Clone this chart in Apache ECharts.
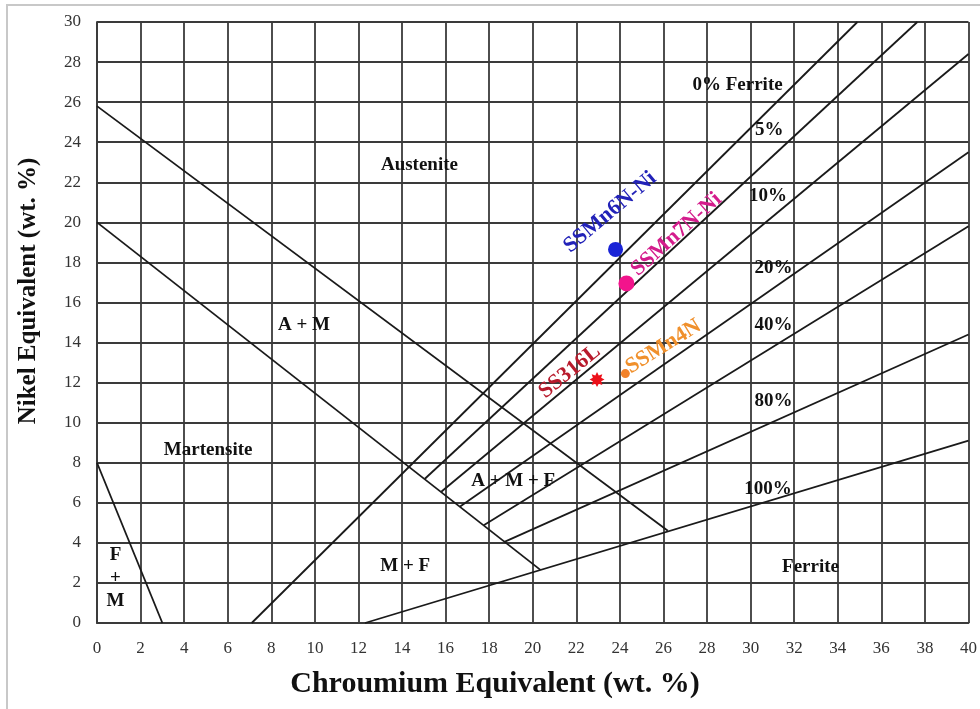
<!DOCTYPE html>
<html>
<head>
<meta charset="utf-8">
<script src="https://cdn.jsdelivr.net/npm/echarts@6/dist/echarts.min.js"></script>
<style>
html,body{margin:0;padding:0;background:#fff;}
#chart{width:980px;height:709px;}
</style>
</head>
<body>
<div id="chart"></div>
<script>
// ---- Schaeffler diagram boundaries (Cr eq, Ni eq) ----
const austeniteBoundary  = [[0, 25.8], [26.2, 4.6]];
const martensiteBoundary = [[0, 20.0], [20.35, 2.65]];
const fmBoundary         = [[0, 8.0], [3.0, 0]];
const ferrite0   = [[7.1, 0], [34.9, 30]];
const ferrite5   = [[15.05, 7.2], [37.65, 30]];
const ferrite10  = [[15.8, 6.55], [40, 28.4]];
const ferrite20  = [[16.65, 5.8], [40, 23.5]];
const ferrite40  = [[17.75, 4.88], [40, 19.8]];
const ferrite80  = [[18.7, 4.05], [40, 14.4]];
const ferrite100 = [[12.3, 0], [40, 9.1]];

// ---- samples ----
const sampleNames = ['SSMn6N-Ni', 'SSMn7N-Ni', 'SS316L', 'SSMn4N'];
const sampleCr    = [23.8, 24.3, 22.95, 24.25];
const sampleNi    = [18.65, 16.95, 12.15, 12.45];
const sampleLabelCr = [23.55, 26.6, 21.7, 26.0];
const sampleLabelNi = [20.5, 19.4, 12.55, 13.8];

// ---- region / ferrite labels ----
const regionNames = ['Austenite', 'A + M', 'Martensite', 'A + M + F', 'M + F', 'Ferrite', 'F\n+\nM',
  '0% Ferrite', '5%', '10%', '20%', '40%', '80%', '100%'];
const regionCr = [14.8, 9.5, 5.1, 19.1, 14.15, 32.75, 0.85, 29.4, 30.85, 30.8, 31.05, 31.05, 31.05, 30.8];
const regionNi = [22.85, 14.85, 8.65, 7.1, 2.85, 2.8, 2.25, 26.85, 24.6, 21.3, 17.7, 14.85, 11.1, 6.7];

const xTitle = 'Chroumium Equivalent (wt. %)';
const yTitle = 'Nikel Equivalent (wt. %)';

const FONT = '"Liberation Serif", "Times New Roman", serif';

function starPath(n, ro, ri) {
  let p = [];
  for (let i = 0; i < 2 * n; i++) {
    const r = i % 2 === 0 ? ro : ri;
    const a = Math.PI * i / n - Math.PI / 2;
    p.push((i === 0 ? 'M' : 'L') + (50 + r * Math.cos(a)).toFixed(2) + ',' + (50 + r * Math.sin(a)).toFixed(2));
  }
  return 'path://' + p.join(' ') + ' Z';
}

const boundaryLines = [austeniteBoundary, martensiteBoundary, fmBoundary, ferrite0, ferrite5,
  ferrite10, ferrite20, ferrite40, ferrite80, ferrite100];

const sampleColors = ['#1a24d6', '#f2148c', '#ec101a', '#f2822a'];
const sampleLabelColors = ['#2222b8', '#d41c8c', '#b81a2c', '#f0902c'];
const sampleSymbols = ['circle', 'circle', starPath(8, 50, 30), 'circle'];
const sampleSizes = [15, 16, 15, 9];
const sampleRotate = [40, 42, 39, 32];

const series = [];
boundaryLines.forEach(function (seg) {
  series.push({
    type: 'line', data: seg, symbol: 'none', silent: true, animation: false,
    lineStyle: { color: '#1a1a1a', width: 1.8 }, z: 3
  });
});
series.push({
  type: 'scatter', animation: false, z: 5,
  data: sampleNames.map(function (n, i) {
    return {
      name: n, value: [sampleCr[i], sampleNi[i]],
      symbol: sampleSymbols[i], symbolSize: sampleSizes[i],
      itemStyle: { color: sampleColors[i], opacity: 1 }
    };
  })
});
series.push({
  type: 'scatter', animation: false, z: 6, symbolSize: 0, silent: true,
  itemStyle: { opacity: 1 },
  data: sampleNames.map(function (n, i) {
    return {
      name: n, value: [sampleLabelCr[i], sampleLabelNi[i]],
      label: {
        show: true, position: 'inside', formatter: n, rotate: sampleRotate[i],
        color: sampleLabelColors[i], fontFamily: FONT, fontWeight: 'bold', fontSize: 22
      }
    };
  })
});
series.push({
  type: 'scatter', animation: false, z: 6, symbolSize: 0, silent: true,
  itemStyle: { opacity: 1 },
  data: regionNames.map(function (n, i) {
    return {
      name: n, value: [regionCr[i], regionNi[i]],
      label: {
        show: true, position: 'inside', formatter: n, color: '#111',
        fontFamily: FONT, fontWeight: 'bold', fontSize: 19, lineHeight: 23
      }
    };
  })
});

const chart = echarts.init(document.getElementById('chart'), null, { renderer: 'canvas' });
chart.setOption({
  backgroundColor: '#fff',
  animation: false,
  graphic: [{
    type: 'rect', shape: { x: 7, y: 5, width: 1000, height: 800 },
    style: { fill: 'none', stroke: '#c8c8c8', lineWidth: 2 }, z: -1, silent: true
  }, {
    type: 'text', x: 495, y: 684, silent: true,
    style: { text: xTitle, fill: '#111', font: 'bold 30px ' + FONT, textAlign: 'center', textVerticalAlign: 'middle' }
  }, {
    type: 'text', x: 29, y: 291, rotation: Math.PI / 2, silent: true,
    style: { text: yTitle, fill: '#111', font: 'bold 25px ' + FONT, textAlign: 'center', textVerticalAlign: 'middle' }
  }],
  grid: { left: 97, right: 8, top: 22, bottom: 86, containLabel: false },
  xAxis: {
    type: 'value', min: 0, max: 40, interval: 2,
    axisLine: { show: true, lineStyle: { color: '#3a3a3a', width: 1.8 } },
    axisTick: { show: false },
    axisLabel: { fontFamily: FONT, fontSize: 17, color: '#333', margin: 17 },
    splitLine: { show: true, lineStyle: { color: '#3a3a3a', width: 1.8 } }
  },
  yAxis: {
    type: 'value', min: 0, max: 30, interval: 2,
    axisLine: { show: true, lineStyle: { color: '#3a3a3a', width: 1.8 } },
    axisTick: { show: false },
    axisLabel: { fontFamily: FONT, fontSize: 17, color: '#333', margin: 16 },
    splitLine: { show: true, lineStyle: { color: '#3a3a3a', width: 1.8 } }
  },
  series: series
});
</script>
</body>
</html>
